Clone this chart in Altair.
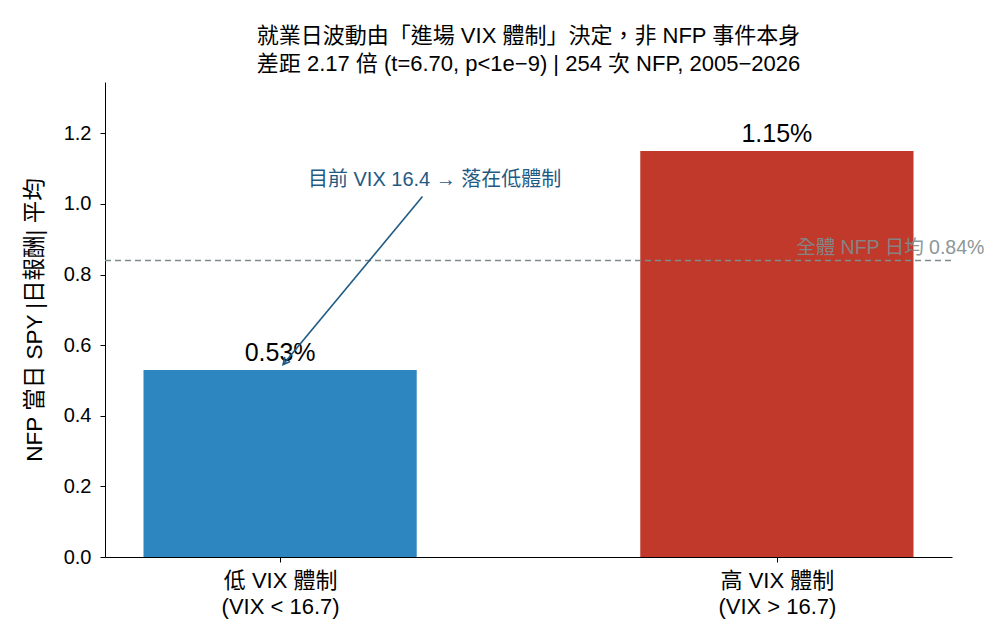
import altair as alt
import pandas as pd

regimes = ["低 VIX 體制", "高 VIX 體制"]
sub_labels = ["(VIX < 16.7)", "(VIX > 16.7)"]
positions = [0, 1]
means = [0.53, 1.15]
colors = ["#2e86c1", "#c0392b"]
overall = 0.84
current_vix = 16.4

FONT = "'Liberation Sans', 'Noto Sans CJK TC', sans-serif"
bw = 0.275
xdom = [-0.3525, 1.3525]
ydom = [0, 1.3455]

bars_df = pd.DataFrame({
    "pos": positions,
    "lo": [p - bw for p in positions],
    "hi": [p + bw for p in positions],
    "mean": means,
    "label": [f"{m:.2f}%" for m in means],
    "regime": regimes,
})

xs = alt.Scale(domain=xdom, nice=False, zero=False)
ys = alt.Scale(domain=ydom, nice=False, zero=False)

label_expr = ("datum.value == 0 ? ['" + regimes[0] + "', '" + sub_labels[0] + "'] : "
              "datum.value == 1 ? ['" + regimes[1] + "', '" + sub_labels[1] + "'] : ''")

base = alt.Chart(bars_df)

bars = base.mark_rect().encode(
    x=alt.X("lo:Q", scale=xs, axis=alt.Axis(values=positions, labelExpr=label_expr, title=None,
                                          labelFontSize=22, labelLineHeight=26, labelFont=FONT,
                                          tickSize=5, labelPadding=8, domainColor="#000", tickColor="#000",
                                          labelColor="#000", grid=False)),
    x2="hi:Q",
    y=alt.Y("mean:Q", scale=ys, axis=alt.Axis(values=[0, 0.2, 0.4, 0.6, 0.8, 1.0, 1.2], format=".1f",
                                             title="NFP 當日 SPY |日報酬| 平均", titleFontSize=22.5,
                                             titleFont=FONT, titleFontWeight="normal", titleColor="#000",
                                             labelFontSize=20, labelFont=FONT, tickSize=5, labelPadding=9,
                                             domainColor="#000", tickColor="#000", labelColor="#000",
                                             grid=False, titlePadding=17)),
    y2=alt.datum(0),
    color=alt.Color("regime:N", scale=alt.Scale(domain=regimes, range=colors), legend=None),
)

bar_text = base.mark_text(fontSize=25, font=FONT, baseline="bottom", dy=-4, color="#000").encode(
    x=alt.X("pos:Q", scale=xs), y=alt.Y("mean:Q", scale=ys), text="label:N"
)

ov_df = pd.DataFrame({"x0": [xdom[0]], "x1": [xdom[1]], "y": [overall],
                      "tx": [1.4177], "t": [f"全體 NFP 日均 {overall:.2f}%"]})
ov_rule = alt.Chart(ov_df).mark_rule(color="#7f8c8d", strokeDash=[6, 4], strokeWidth=1.6).encode(
    x=alt.X("x0:Q", scale=xs), x2="x1:Q", y=alt.Y("y:Q", scale=ys)
)
ov_text = alt.Chart(ov_df).mark_text(align="right", baseline="bottom", dy=-2, fontSize=19.5, font=FONT,
                                     color="#7f8c8d", opacity=0.9).encode(
    x=alt.X("tx:Q", scale=xs), y=alt.Y("y:Q", scale=ys), text="t:N"
)

ann_df = pd.DataFrame({"tx": [0.311], "ty": [1.067], "t": [f"目前 VIX {current_vix} → 落在低體制"],
                       "sx": [0.2866], "sy": [1.021], "ex": [0.006], "ey": [0.545]})
ann_text = alt.Chart(ann_df).mark_text(fontSize=20, font=FONT, color="#1f5a85").encode(
    x=alt.X("tx:Q", scale=xs), y=alt.Y("ty:Q", scale=ys), text="t:N"
)
ann_line = alt.Chart(ann_df).mark_rule(color="#1f5a85", strokeWidth=1.6).encode(
    x=alt.X("sx:Q", scale=xs), x2="ex:Q", y=alt.Y("sy:Q", scale=ys), y2="ey:Q"
)
ann_head = alt.Chart(ann_df).mark_point(shape="M-0.55,1.1L0,0L0.55,1.1", filled=False, size=160,
                                        color="#1f5a85", strokeWidth=1.6, angle=219.4, opacity=1).encode(
    x=alt.X("ex:Q", scale=xs), y=alt.Y("ey:Q", scale=ys)
)

chart = alt.layer(bars, bar_text, ov_rule, ov_text, ann_line, ann_head, ann_text).properties(
    width=847, height=475,
    background="white",
    title=alt.TitleParams(
        ["就業日波動由「進場 VIX 體制」決定，非 NFP 事件本身",
         "差距 2.17 倍 (t=6.70, p<1e−9) | 254 次 NFP, 2005−2026"],
        fontSize=22, font=FONT, fontWeight="normal", color="#000", lineHeight=28,
        anchor="middle", offset=6),
    autosize=alt.AutoSizeParams(type="none"),
    padding={"left": 105, "top": 82, "right": 56, "bottom": 87},
).configure_view(strokeWidth=0, stroke="transparent")

chart.save("out.html", embed_options={"renderer": "svg", "actions": False})
